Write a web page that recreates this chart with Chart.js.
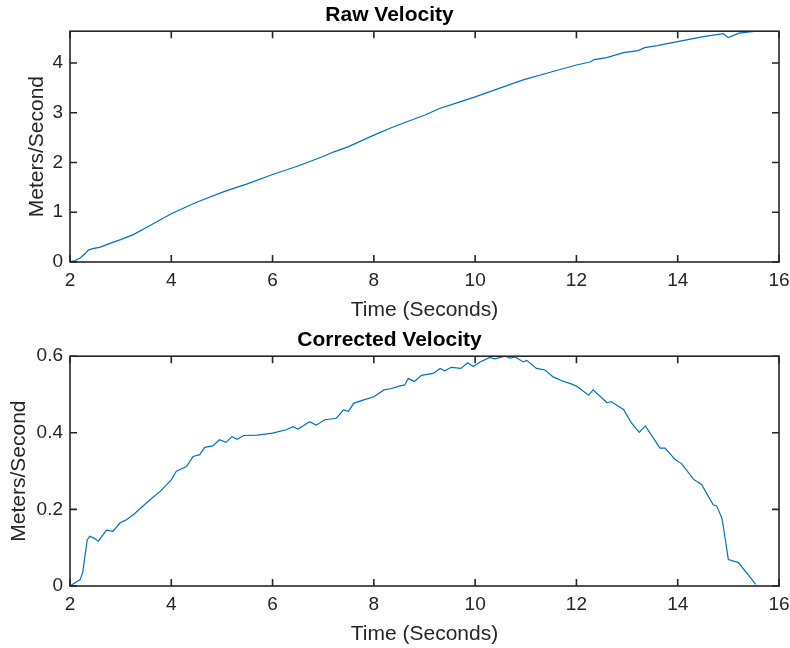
<!DOCTYPE html>
<html>
<head>
<meta charset="utf-8">
<script src="https://cdn.jsdelivr.net/npm/chart.js@4/dist/chart.umd.min.js"></script>
<style>
  body { margin: 0; background: #fff; }
  canvas { display: block; }
</style>
</head>
<body>
<canvas id="rawChart" width="790" height="324"></canvas>
<canvas id="corrChart" width="790" height="324"></canvas>

<script>
// raw velocity (m/s) vs time (s)
var timeRaw = [2, 2.1, 2.2, 2.3, 2.36, 2.45, 2.6, 2.8, 3, 3.25, 3.5, 4, 4.5, 5, 5.23, 5.5, 6, 6.5, 7, 7.2,
  7.5, 8, 8.32, 8.6, 9, 9.31, 9.7, 10, 10.5, 10.95, 11.5, 12, 12.27, 12.35, 12.6, 12.93, 13.22, 13.35, 13.6, 13.79,
  14, 14.5, 14.9, 15.0, 15.21, 15.55];
var velRaw = [0, 0.03, 0.08, 0.17, 0.24, 0.27, 0.3, 0.38, 0.45, 0.55, 0.69, 0.97, 1.2, 1.4, 1.48, 1.57, 1.76, 1.93, 2.12, 2.21,
  2.32, 2.55, 2.69, 2.8, 2.95, 3.09, 3.22, 3.32, 3.5, 3.66, 3.82, 3.96, 4.02, 4.07, 4.11, 4.21, 4.25, 4.31, 4.35, 4.39,
  4.43, 4.53, 4.59, 4.51, 4.6, 4.64];

// corrected velocity
var timeCorr = [2.0, 2.2, 2.25, 2.34, 2.39, 2.47, 2.56, 2.72, 2.85, 2.99, 3.1, 3.25, 3.58, 3.78, 4.0, 4.1, 4.3, 4.43, 4.56, 4.66,
  4.82, 4.95, 5.08, 5.2, 5.3, 5.43, 5.7, 6.0, 6.27, 6.4, 6.5, 6.6, 6.73, 6.86, 7.03, 7.26, 7.4, 7.5, 7.6, 7.8,
  8.0, 8.2, 8.33, 8.5, 8.61, 8.68, 8.8, 8.94, 9.17, 9.31, 9.4, 9.53, 9.72, 9.85, 9.96, 10.1, 10.29, 10.39, 10.59, 10.69,
  10.79, 10.95, 11.02, 11.21, 11.38, 11.54, 11.71, 11.91, 12.0, 12.24, 12.33, 12.6, 12.69, 12.93, 13.09, 13.24, 13.36, 13.52, 13.65, 13.75,
  13.95, 14.08, 14.31, 14.47, 14.7, 14.77, 14.87, 14.9, 15.0, 15.2, 15.54];
var velCorr = [0, 0.017, 0.035, 0.12, 0.13, 0.125, 0.117, 0.146, 0.143, 0.165, 0.172, 0.186, 0.225, 0.247, 0.277, 0.3, 0.312, 0.338, 0.343, 0.362,
  0.366, 0.382, 0.375, 0.39, 0.383, 0.393, 0.394, 0.399, 0.408, 0.416, 0.41, 0.418, 0.429, 0.42, 0.434, 0.438, 0.46, 0.456, 0.477, 0.486,
  0.494, 0.512, 0.515, 0.522, 0.525, 0.542, 0.534, 0.55, 0.555, 0.568, 0.562, 0.571, 0.568, 0.583, 0.573, 0.585, 0.597, 0.593, 0.6, 0.595,
  0.598, 0.585, 0.589, 0.568, 0.564, 0.546, 0.536, 0.527, 0.522, 0.498, 0.512, 0.479, 0.481, 0.461, 0.425, 0.401, 0.418, 0.386, 0.36, 0.36,
  0.33, 0.319, 0.279, 0.265, 0.212, 0.209, 0.178, 0.156, 0.069, 0.061, 0.004];

var xTicks = [2, 4, 6, 8, 10, 12, 14, 16];

var FONT = '"Liberation Sans", Arial, Helvetica, sans-serif';
var AXIS_COLOR = '#262626';

function toPoints(xs, ys) {
  var pts = [];
  for (var i = 0; i < xs.length; i++) pts.push({ x: xs[i], y: ys[i] });
  return pts;
}

// matlab style box with inward ticks
var boxPlugin = {
  id: 'box',
  afterDraw: function(chart) {
    var ctx = chart.ctx, a = chart.chartArea;
    var xs = chart.scales.x, ys = chart.scales.y;
    var len = 7;
    ctx.save();
    ctx.strokeStyle = AXIS_COLOR;
    ctx.lineWidth = 1.6;
    ctx.beginPath();
    xs.ticks.forEach(function(t) {
      var px = xs.getPixelForValue(t.value);
      ctx.moveTo(px, a.bottom); ctx.lineTo(px, a.bottom - len);
      ctx.moveTo(px, a.top); ctx.lineTo(px, a.top + len);
    });
    ys.ticks.forEach(function(t) {
      var py = ys.getPixelForValue(t.value);
      ctx.moveTo(a.left, py); ctx.lineTo(a.left + len, py);
      ctx.moveTo(a.right, py); ctx.lineTo(a.right - len, py);
    });
    ctx.stroke();
    ctx.strokeRect(a.left, a.top, a.right - a.left, a.bottom - a.top);
    ctx.restore();
  }
};

function makeChart(id, title, xs, ys, yMax, yStep, titlePad, yTitlePad) {
  return new Chart(document.getElementById(id), {
    type: 'line',
    data: {
      datasets: [{
        data: toPoints(xs, ys),
        borderColor: 'rgb(0,114,189)',
        borderWidth: 1.2,
        pointRadius: 0,
        tension: 0,
        fill: false
      }]
    },
    options: {
      responsive: false,
      animation: false,
      layout: { padding: { left: 0, right: 11, top: 0, bottom: 0 } },
      plugins: {
        legend: { display: false },
        tooltip: { enabled: false },
        title: {
          display: true,
          text: title,
          color: '#000',
          font: { family: FONT, size: 21, weight: 'bold' },
          padding: titlePad
        }
      },
      scales: {
        x: {
          type: 'linear',
          min: 2,
          max: 16,
          grid: { display: false, drawTicks: false },
          border: { display: false },
          afterBuildTicks: function(s) { s.ticks = xTicks.map(function(v) { return { value: v }; }); },
          afterFit: function(s) { s.height = 62; s.paddingLeft = 0; s.paddingRight = 0; },
          ticks: {
            color: AXIS_COLOR,
            font: { family: FONT, size: 19 },
            padding: 7.5,
            maxRotation: 0,
            autoSkip: false
          },
          title: {
            display: true,
            text: 'Time (Seconds)',
            color: AXIS_COLOR,
            font: { family: FONT, size: 21 },
            padding: { top: 0, bottom: 1.5 }
          }
        },
        y: {
          type: 'linear',
          min: 0,
          max: yMax,
          grid: { display: false, drawTicks: false },
          border: { display: false },
          afterFit: function(s) { s.width = 70; s.paddingTop = 0; s.paddingBottom = 0; },
          ticks: {
            stepSize: yStep,
            includeBounds: false,
            color: AXIS_COLOR,
            font: { family: FONT, size: 19 },
            padding: 7,
            callback: function(v) { return +v.toFixed(1) + ''; }
          },
          title: {
            display: true,
            text: 'Meters/Second',
            color: AXIS_COLOR,
            font: { family: FONT, size: 21 },
            padding: { top: yTitlePad, bottom: 0 }
          }
        }
      }
    },
    plugins: [boxPlugin]
  });
}

makeChart('rawChart', 'Raw Velocity', timeRaw, velRaw, 4.64, 1, { top: 3, bottom: 3 }, 25);
makeChart('corrChart', 'Corrected Velocity', timeCorr, velCorr, 0.6, 0.2, { top: 3.5, bottom: 3.5 }, 7);
</script>
</body>
</html>
